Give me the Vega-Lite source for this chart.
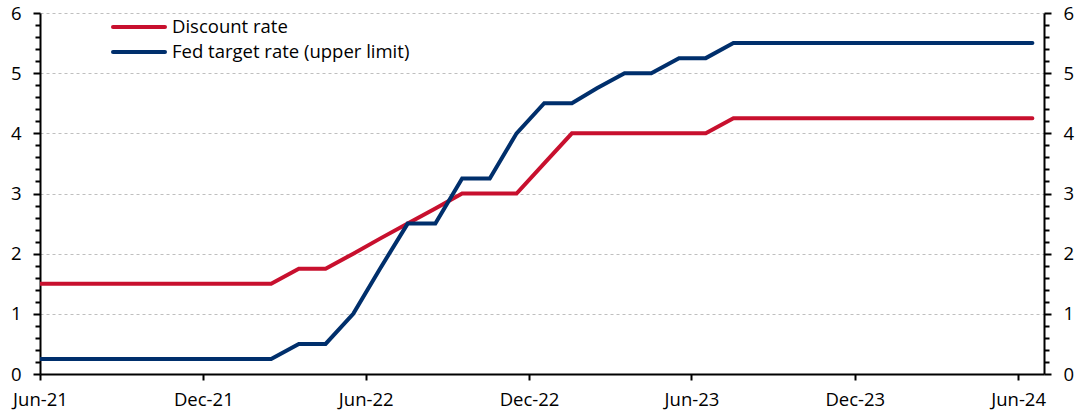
{
  "$schema": "https://vega.github.io/schema/vega-lite/v6.json",
  "width": 1004,
  "height": 361,
  "autosize": {"type": "none"},
  "padding": {"left": 40, "top": 13, "right": 32, "bottom": 40},
  "background": "white",
  "config": {"view": {"stroke": null}, "font": "Open Sans"},
  "datasets": {
    "rates": [
      {"date": "2021-06-01", "series": "Discount rate", "value": 1.5},
      {"date": "2021-07-01", "series": "Discount rate", "value": 1.5},
      {"date": "2021-08-01", "series": "Discount rate", "value": 1.5},
      {"date": "2021-09-01", "series": "Discount rate", "value": 1.5},
      {"date": "2021-10-01", "series": "Discount rate", "value": 1.5},
      {"date": "2021-11-01", "series": "Discount rate", "value": 1.5},
      {"date": "2021-12-01", "series": "Discount rate", "value": 1.5},
      {"date": "2022-01-01", "series": "Discount rate", "value": 1.5},
      {"date": "2022-02-01", "series": "Discount rate", "value": 1.5},
      {"date": "2022-03-01", "series": "Discount rate", "value": 1.5},
      {"date": "2022-04-01", "series": "Discount rate", "value": 1.75},
      {"date": "2022-05-01", "series": "Discount rate", "value": 1.75},
      {"date": "2022-06-01", "series": "Discount rate", "value": 2.0},
      {"date": "2022-07-01", "series": "Discount rate", "value": 2.25},
      {"date": "2022-08-01", "series": "Discount rate", "value": 2.5},
      {"date": "2022-09-01", "series": "Discount rate", "value": 2.75},
      {"date": "2022-10-01", "series": "Discount rate", "value": 3.0},
      {"date": "2022-11-01", "series": "Discount rate", "value": 3.0},
      {"date": "2022-12-01", "series": "Discount rate", "value": 3.0},
      {"date": "2023-01-01", "series": "Discount rate", "value": 3.5},
      {"date": "2023-02-01", "series": "Discount rate", "value": 4.0},
      {"date": "2023-03-01", "series": "Discount rate", "value": 4.0},
      {"date": "2023-04-01", "series": "Discount rate", "value": 4.0},
      {"date": "2023-05-01", "series": "Discount rate", "value": 4.0},
      {"date": "2023-06-01", "series": "Discount rate", "value": 4.0},
      {"date": "2023-07-01", "series": "Discount rate", "value": 4.0},
      {"date": "2023-08-01", "series": "Discount rate", "value": 4.25},
      {"date": "2023-09-01", "series": "Discount rate", "value": 4.25},
      {"date": "2023-10-01", "series": "Discount rate", "value": 4.25},
      {"date": "2023-11-01", "series": "Discount rate", "value": 4.25},
      {"date": "2023-12-01", "series": "Discount rate", "value": 4.25},
      {"date": "2024-01-01", "series": "Discount rate", "value": 4.25},
      {"date": "2024-02-01", "series": "Discount rate", "value": 4.25},
      {"date": "2024-03-01", "series": "Discount rate", "value": 4.25},
      {"date": "2024-04-01", "series": "Discount rate", "value": 4.25},
      {"date": "2024-05-01", "series": "Discount rate", "value": 4.25},
      {"date": "2024-06-01", "series": "Discount rate", "value": 4.25},
      {"date": "2024-07-01", "series": "Discount rate", "value": 4.25},
      {"date": "2021-06-01", "series": "Fed target rate (upper limit)", "value": 0.25},
      {"date": "2021-07-01", "series": "Fed target rate (upper limit)", "value": 0.25},
      {"date": "2021-08-01", "series": "Fed target rate (upper limit)", "value": 0.25},
      {"date": "2021-09-01", "series": "Fed target rate (upper limit)", "value": 0.25},
      {"date": "2021-10-01", "series": "Fed target rate (upper limit)", "value": 0.25},
      {"date": "2021-11-01", "series": "Fed target rate (upper limit)", "value": 0.25},
      {"date": "2021-12-01", "series": "Fed target rate (upper limit)", "value": 0.25},
      {"date": "2022-01-01", "series": "Fed target rate (upper limit)", "value": 0.25},
      {"date": "2022-02-01", "series": "Fed target rate (upper limit)", "value": 0.25},
      {"date": "2022-03-01", "series": "Fed target rate (upper limit)", "value": 0.25},
      {"date": "2022-04-01", "series": "Fed target rate (upper limit)", "value": 0.5},
      {"date": "2022-05-01", "series": "Fed target rate (upper limit)", "value": 0.5},
      {"date": "2022-06-01", "series": "Fed target rate (upper limit)", "value": 1.0},
      {"date": "2022-07-01", "series": "Fed target rate (upper limit)", "value": 1.75},
      {"date": "2022-08-01", "series": "Fed target rate (upper limit)", "value": 2.5},
      {"date": "2022-09-01", "series": "Fed target rate (upper limit)", "value": 2.5},
      {"date": "2022-10-01", "series": "Fed target rate (upper limit)", "value": 3.25},
      {"date": "2022-11-01", "series": "Fed target rate (upper limit)", "value": 3.25},
      {"date": "2022-12-01", "series": "Fed target rate (upper limit)", "value": 4.0},
      {"date": "2023-01-01", "series": "Fed target rate (upper limit)", "value": 4.5},
      {"date": "2023-02-01", "series": "Fed target rate (upper limit)", "value": 4.5},
      {"date": "2023-03-01", "series": "Fed target rate (upper limit)", "value": 4.75},
      {"date": "2023-04-01", "series": "Fed target rate (upper limit)", "value": 5.0},
      {"date": "2023-05-01", "series": "Fed target rate (upper limit)", "value": 5.0},
      {"date": "2023-06-01", "series": "Fed target rate (upper limit)", "value": 5.25},
      {"date": "2023-07-01", "series": "Fed target rate (upper limit)", "value": 5.25},
      {"date": "2023-08-01", "series": "Fed target rate (upper limit)", "value": 5.5},
      {"date": "2023-09-01", "series": "Fed target rate (upper limit)", "value": 5.5},
      {"date": "2023-10-01", "series": "Fed target rate (upper limit)", "value": 5.5},
      {"date": "2023-11-01", "series": "Fed target rate (upper limit)", "value": 5.5},
      {"date": "2023-12-01", "series": "Fed target rate (upper limit)", "value": 5.5},
      {"date": "2024-01-01", "series": "Fed target rate (upper limit)", "value": 5.5},
      {"date": "2024-02-01", "series": "Fed target rate (upper limit)", "value": 5.5},
      {"date": "2024-03-01", "series": "Fed target rate (upper limit)", "value": 5.5},
      {"date": "2024-04-01", "series": "Fed target rate (upper limit)", "value": 5.5},
      {"date": "2024-05-01", "series": "Fed target rate (upper limit)", "value": 5.5},
      {"date": "2024-06-01", "series": "Fed target rate (upper limit)", "value": 5.5},
      {"date": "2024-07-01", "series": "Fed target rate (upper limit)", "value": 5.5}
    ]
  },
  "data": {"name": "rates"},
  "layer": [
    {
      "mark": {"type": "line", "strokeWidth": 4, "clip": true, "strokeCap": "round"},
      "encoding": {
        "x": {
          "field": "date", "type": "temporal",
          "scale": {"domain": [{"year": 2021, "month": 6, "date": 15}, {"year": 2024, "month": 7, "date": 14}]},
          "axis": {
            "values": [
              {"year": 2021, "month": 6, "date": 15}, {"year": 2021, "month": 12, "date": 15},
              {"year": 2022, "month": 6, "date": 15}, {"year": 2022, "month": 12, "date": 15},
              {"year": 2023, "month": 6, "date": 15}, {"year": 2023, "month": 12, "date": 15},
              {"year": 2024, "month": 6, "date": 15}
            ],
            "format": "%b-%y", "title": null, "grid": false,
            "tickSize": 6, "tickColor": "black", "tickWidth": 2,
            "domainColor": "black", "domainWidth": 2,
            "labelFont": "Open Sans", "labelFontSize": 18.5, "labelColor": "black",
            "labelPadding": 10, "labelFlush": false, "labelOverlap": false
          }
        },
        "y": {
          "field": "value", "type": "quantitative",
          "scale": {"domain": [0, 6], "nice": false},
          "axis": {
            "orient": "left", "title": null,
            "values": [0, 0.2, 0.4, 0.6, 0.8, 1, 1.2, 1.4, 1.6, 1.8, 2, 2.2, 2.4, 2.6, 2.8, 3, 3.2, 3.4, 3.6, 3.8, 4, 4.2, 4.4, 4.6, 4.8, 5, 5.2, 5.4, 5.6, 5.8, 6],
            "labelExpr": "abs(datum.value - round(datum.value)) < 0.001 ? format(datum.value, 'd') : ''",
            "tickSize": {"condition": {"test": "abs(datum.value - round(datum.value)) < 0.001", "value": 7}, "value": 5},
            "tickColor": "black", "tickWidth": 2,
            "grid": true, "gridColor": "#BFBFBF", "gridDash": [3, 3], "gridWidth": 1,
            "gridOpacity": {"condition": {"test": "abs(datum.value - round(datum.value)) < 0.001", "value": 1}, "value": 0},
            "domainColor": "black", "domainWidth": 2,
            "labelFont": "Open Sans", "labelFontSize": 18.5, "labelColor": "black",
            "labelPadding": 12, "labelOverlap": false, "labelFlush": false
          }
        },
        "color": {
          "field": "series", "type": "nominal",
          "scale": {"domain": ["Discount rate", "Fed target rate (upper limit)"], "range": ["#C8102E", "#002F6C"]},
          "legend": {
            "title": null, "orient": "none", "legendX": 71, "legendY": 5,
            "symbolType": "stroke", "symbolSize": 2704, "symbolStrokeWidth": 4,
            "clipHeight": 18,
            "labelFont": "Open Sans", "labelFontSize": 18.5, "labelColor": "black",
            "labelOffset": 5, "rowPadding": 6, "labelLimit": 500,
            "symbolOpacity": 1,
            "encode": {"symbols": {"update": {"strokeCap": {"value": "round"}}}}
          }
        }
      }
    },
    {
      "mark": {"type": "line", "opacity": 0, "clip": true},
      "encoding": {
        "x": {
          "field": "date", "type": "temporal",
          "scale": {"domain": [{"year": 2021, "month": 6, "date": 15}, {"year": 2024, "month": 7, "date": 14}]},
          "axis": {
            "values": [
              {"year": 2021, "month": 6, "date": 15}, {"year": 2021, "month": 12, "date": 15},
              {"year": 2022, "month": 6, "date": 15}, {"year": 2022, "month": 12, "date": 15},
              {"year": 2023, "month": 6, "date": 15}, {"year": 2023, "month": 12, "date": 15},
              {"year": 2024, "month": 6, "date": 15}
            ],
            "format": "%b-%y", "title": null, "grid": false,
            "tickSize": 6, "tickColor": "black", "tickWidth": 2,
            "domainColor": "black", "domainWidth": 2,
            "labelFont": "Open Sans", "labelFontSize": 18.5, "labelColor": "black",
            "labelPadding": 10, "labelFlush": false, "labelOverlap": false
          }
        },
        "y": {
          "field": "value", "type": "quantitative",
          "scale": {"domain": [0, 6], "nice": false},
          "axis": {
            "orient": "right", "title": null,
            "values": [0, 0.2, 0.4, 0.6, 0.8, 1, 1.2, 1.4, 1.6, 1.8, 2, 2.2, 2.4, 2.6, 2.8, 3, 3.2, 3.4, 3.6, 3.8, 4, 4.2, 4.4, 4.6, 4.8, 5, 5.2, 5.4, 5.6, 5.8, 6],
            "labelExpr": "abs(datum.value - round(datum.value)) < 0.001 ? format(datum.value, 'd') : ''",
            "tickSize": {"condition": {"test": "abs(datum.value - round(datum.value)) < 0.001", "value": 7}, "value": 5},
            "tickColor": "black", "tickWidth": 2, "grid": false,
            "domainColor": "black", "domainWidth": 2,
            "labelFont": "Open Sans", "labelFontSize": 18.5, "labelColor": "black",
            "labelPadding": 12, "labelOverlap": false, "labelFlush": false
          }
        },
        "detail": {"field": "series", "type": "nominal"}
      }
    }
  ],
  "resolve": {"scale": {"y": "independent"}}
}
